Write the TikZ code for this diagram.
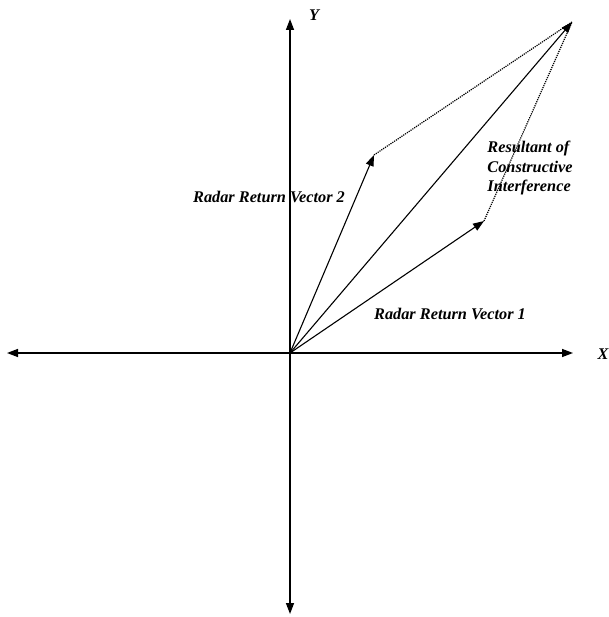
\documentclass[tikz,border=0pt]{standalone}
\usepackage{fontspec}
\setmainfont{Liberation Serif}
\usetikzlibrary{arrows.meta}
\begin{document}
\begin{tikzpicture}[x=1pt,y=-1pt,
  axis/.style={line width=1.4pt,-{Triangle[length=11pt,width=8pt]}},
  vec/.style={line width=1.1pt,-{Triangle[length=11pt,width=8pt]}},
  dot/.style={line width=1.2pt,densely dotted},
  lbl/.style={font=\fontsize{16.3}{19.5}\selectfont\bfseries\itshape,inner sep=0pt}]
\useasboundingbox (0,0) rectangle (608,617);
\coordinate (O) at (290,353);
\coordinate (xL) at (7,353);
\coordinate (xR) at (573,353);
\coordinate (yT) at (290,19);
\coordinate (yB) at (290,614);
\coordinate (v1) at (484,221);
\coordinate (v2) at (374,155);
\coordinate (r) at (572,22);
\draw[axis] (O) -- (xL);
\draw[axis] (O) -- (xR);
\draw[axis] (O) -- (yT);
\draw[axis] (O) -- (yB);
\draw[vec] (O) -- (v1);
\draw[vec] (O) -- (v2);
\draw[vec] (O) -- (r);
\draw[dot] (v2) -- (r);
\draw[dot] (v1) -- (r);
\node[lbl] (ly) at (314,15) {Y};
\node[lbl] (lx) at (603,354) {X};
\node[lbl] (l2) at (269,197) {Radar Return Vector 2};
\node[lbl] (l1) at (450,314) {Radar Return Vector 1};
\node[lbl,align=left] (lr) at (530,168) {Resultant of\\Constructive\\Interference};
\end{tikzpicture}
\end{document}
